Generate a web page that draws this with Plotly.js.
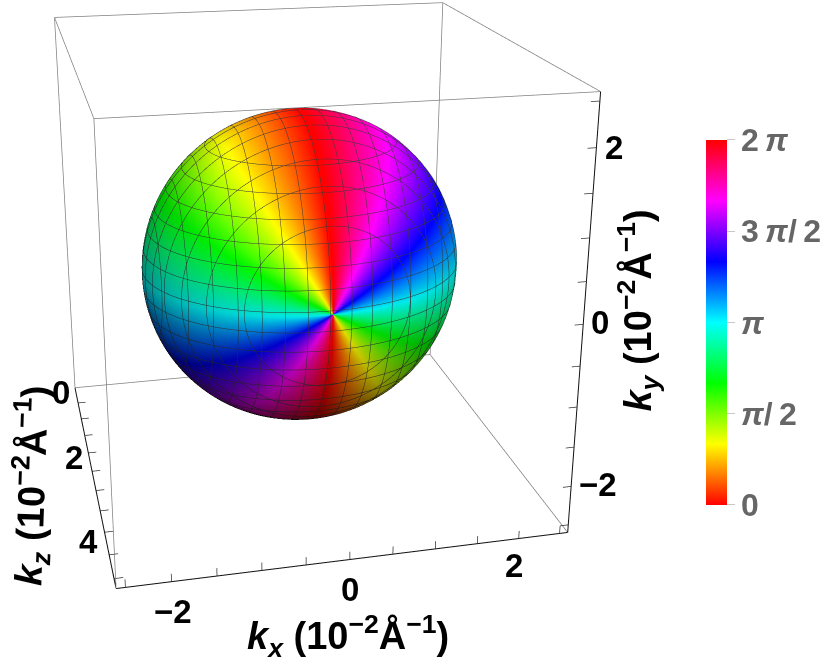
<!DOCTYPE html>
<html>
<head>
<meta charset="utf-8">
<script src="https://cdn.plot.ly/plotly-3.0.1.min.js"></script>
<style>
html, body { margin: 0; padding: 0; width: 830px; height: 659px; overflow: hidden; background: #fff; }
#wrap { position: absolute; left: 0; top: 0; width: 830px; height: 659px; overflow: hidden; }
/* plotly fixes the 3d fov at 45deg, so the scene has to be bigger than the window */
#plt { position: absolute; left: -294px; top: -348px; }
</style>
</head>
<body>
<div id="wrap"><div id="plt"></div></div>
<script>
var xRange = [-2.6, 2.6];
var yRange = [-2.6, 2.6];
var zRange = [0, 5.2];

var xTicks = [-2.5, -2, -1.5, -1, -0.5, 0, 0.5, 1, 1.5, 2, 2.5];
var yTicks = [-2.5, -2, -1.5, -1, -0.5, 0, 0.5, 1, 1.5, 2, 2.5];
var zTicks = [0.5, 1, 1.5, 2, 2.5, 3, 3.5, 4, 4.5, 5];

var xLabels = [-2, 0, 2];
var xLabelText = ['−2', '0', '2'];
var xLabelShift = [[1, -30], [0, -30], [-5, -27]];
var yLabels = [-2, 0, 2];
var yLabelText = ['−2', '0', '2'];
var yLabelShift = [[27, 2], [17, 2], [18, 0]];
var zLabels = [0, 2, 4];
var zLabelText = ['0', '2', '4'];
var zLabelShift = [[-14, -5], [-14, -5], [-16, -9]];

var sphereR = 1.92;
var sphereRz = 1.62;
var sphereX = 0.03;
var sphereY = -0.045;
var sphereZ = 2.6;
var meshStep = 0.25;

// brightness: base level and pull along kx, ky, kz
var shadeBase = 0.56;
var shadeDir = [0.053, 0.447, 0.366];
// the shade shell sits a little nearer the camera, same outline as the sphere
var shellShift = [-0.0576, 0.0897, 0.2371];
var shellGrow = 0.986;

var barVals = [0, Math.PI / 2, Math.PI, 3 * Math.PI / 2, 2 * Math.PI];
var barText = ['0', '<i>π</i>/\u20092', '<i>π</i>', '3\u2009<i>π</i>/\u20092', '2\u2009<i>π</i>'];
var hues = ['#ff0000', '#ffff00', '#00ff00', '#00ffff', '#0000ff', '#ff00ff', '#ff0000'];

var fontFam = '"Liberation Sans", Arial, sans-serif';
var tickLen = 0.1;
var edgeGray = '#808080';
var edgeDark = '#111111';

function deg(a) { return a * Math.PI / 180; }

// phase winds twice around the kz pole, red on the kx = 0 plane
function buildSphere(grow, off) {
    var thetas = [], phis = [];
    var i, j;
    for (i = 0; i <= 90; i++) thetas.push(deg(0.05 + i * 179.9 / 90));
    // doubled row at the colour wrap so the scale does not run back through the rainbow
    for (i = 0; i <= 90; i++) phis.push([deg(90 + i * 2), deg(i * 4)]);
    for (i = 0; i <= 90; i++) phis.push([deg(270 + i * 2), deg(i * 4)]);
    var X = [], Y = [], Z = [], C = [], B = [];
    for (i = 0; i < thetas.length; i++) {
        var rx = [], ry = [], rz = [], rc = [], rb = [];
        for (j = 0; j < phis.length; j++) {
            var nx = Math.sin(thetas[i]) * Math.cos(phis[j][0]);
            var ny = Math.sin(thetas[i]) * Math.sin(phis[j][0]);
            var nz = Math.cos(thetas[i]);
            rx.push(sphereX + off[0] + grow * sphereR * nx);
            ry.push(sphereY + off[1] + grow * sphereR * ny);
            rz.push(sphereZ + off[2] + grow * sphereRz * nz);
            rc.push(phis[j][1]);
            rb.push(Math.max(0, Math.min(1, shadeBase + shadeDir[0] * nx + shadeDir[1] * ny + shadeDir[2] * nz)));
        }
        X.push(rx); Y.push(ry); Z.push(rz); C.push(rc); B.push(rb);
    }
    return {x: X, y: Y, z: Z, c: C, b: B};
}

function edge(a, b, color, w) {
    return {
        type: 'scatter3d', mode: 'lines', hoverinfo: 'skip', showlegend: false,
        x: [a[0], b[0]], y: [a[1], b[1]], z: [a[2], b[2]],
        line: {color: color, width: w}
    };
}

function tickTrace(xs, ys, zs) {
    return {
        type: 'scatter3d', mode: 'lines', hoverinfo: 'skip', showlegend: false,
        x: xs, y: ys, z: zs, line: {color: '#333333', width: 1.5}
    };
}

function createPlot() {
    var s = buildSphere(1, [0, 0, 0]);
    var shell = buildSphere(shellGrow, shellShift);
    var scale = hues.map(function (c, i) { return [i / (hues.length - 1), c]; });
    var flat = {ambient: 1, diffuse: 0, specular: 0, roughness: 1, fresnel: 0};
    var contour = function (lo, hi) {
        return {show: true, start: lo, end: hi, size: meshStep, color: '#3a3a3a', width: 3, highlight: false};
    };
    var sphere = {
        type: 'surface', x: s.x, y: s.y, z: s.z, surfacecolor: s.c,
        cmin: 0, cmax: 2 * Math.PI, colorscale: scale, hoverinfo: 'skip',
        lighting: flat,
        contours: {x: contour(-1.75, 1.75), y: contour(-1.75, 1.75), z: contour(1, 4.25)},
        colorbar: {
            x: 0.8210, xanchor: 'left', xpad: 0, y: 0.2997, yanchor: 'bottom', ypad: 0,
            len: 0.2997, lenmode: 'fraction', thickness: 21, thicknessmode: 'pixels',
            outlinewidth: 0, tickmode: 'array', tickvals: barVals, ticktext: barText,
            ticks: 'outside', ticklen: 8, tickcolor: '#c8c8c8', tickwidth: 1,
            tickfont: {family: fontFam, size: 32, color: '#666666', weight: 'bold'}
        }
    };
    // lightposition does not steer the light in gl-surface, so a dark shell does the shading
    var shade = {
        type: 'surface', x: shell.x, y: shell.y, z: shell.z, surfacecolor: shell.b,
        cmin: 0, cmax: 1, colorscale: [[0, '#000000'], [1, '#000000']], showscale: false,
        opacityscale: [[0, 1], [1, 0]], hoverinfo: 'skip', lighting: flat
    };

    var x0 = xRange[0], x1 = xRange[1], y0 = yRange[0], y1 = yRange[1], z0 = zRange[0], z1 = zRange[1];
    var data = [sphere, shade,
        edge([x0, y1, z1], [x1, y1, z1], edgeGray, 1.5),
        edge([x0, y1, z0], [x1, y1, z0], edgeGray, 1.5),
        edge([x0, y0, z0], [x1, y0, z0], edgeGray, 1.5),
        edge([x0, y0, z0], [x0, y1, z0], edgeGray, 1.5),
        edge([x1, y0, z0], [x1, y1, z0], edgeGray, 1.5),
        edge([x0, y0, z1], [x0, y1, z1], edgeGray, 1.5),
        edge([x0, y1, z0], [x0, y1, z1], edgeGray, 1.5),
        edge([x1, y1, z0], [x1, y1, z1], edgeGray, 1.5),
        edge([x1, y0, z0], [x1, y0, z1], edgeGray, 1.5),
        edge([x0, y0, z1], [x1, y0, z1], edgeDark, 2),
        edge([x1, y0, z1], [x1, y1, z1], edgeDark, 2),
        edge([x0, y0, z0], [x0, y0, z1], edgeDark, 2)
    ];

    var tx = [], ty = [], tz = [];
    xTicks.forEach(function (v) {
        tx.push(v, v, null); ty.push(y0, y0 + tickLen, null); tz.push(z1, z1, null);
    });
    yTicks.forEach(function (v) {
        tx.push(x1, x1 - tickLen, null); ty.push(v, v, null); tz.push(z1, z1, null);
    });
    zTicks.forEach(function (v) {
        tx.push(x0, x0 + tickLen, null); ty.push(y0, y0, null); tz.push(v, v, null);
    });
    data.push(tickTrace(tx, ty, tz));

    var labelFont = {family: fontFam, size: 33, color: '#000000', weight: 'bold'};
    var titleFont = {family: fontFam, size: 38, color: '#000000', weight: 'bold'};
    var ann = [];
    function note(x, y, z, text, shift, font, angle) {
        ann.push({x: x, y: y, z: z, text: text, showarrow: false, xshift: shift[0], yshift: shift[1],
            font: font, textangle: angle || 0, xanchor: 'center', yanchor: 'middle'});
    }
    xLabels.forEach(function (v, i) { note(v, y0, z1, xLabelText[i], xLabelShift[i], labelFont); });
    yLabels.forEach(function (v, i) { note(x1, v, z1, yLabelText[i], yLabelShift[i], labelFont); });
    zLabels.forEach(function (v, i) { note(x0, y0, v, zLabelText[i], zLabelShift[i], labelFont); });
    var unit = ' (10<sup>−2</sup>Å<sup>−1</sup>)';
    note(0, y0, z1, '<b><i>k<sub>x</sub></i>' + unit + '</b>', [-2, -76], titleFont);
    note(x1, 0, z1, '<b><i>k<sub>y</sub></i>' + unit + '</b>', [55, 14], titleFont, -90);
    note(x0, y0, 2.6, '<b><i>k<sub>z</sub></i>' + unit + '</b>', [-61, -10], titleFont, -88);

    var noAxis = {
        showbackground: false, showgrid: false, zeroline: false, showline: false,
        showticklabels: false, ticks: '', showspikes: false, title: {text: ''}
    };
    var layout = {
        width: 1218, height: 1218,
        margin: {l: 0, r: 0, t: 0, b: 0, pad: 0},
        paper_bgcolor: '#ffffff',
        showlegend: false,
        scene: {
            domain: {x: [0, 1], y: [0, 1]},
            xaxis: Object.assign({range: xRange}, noAxis),
            yaxis: Object.assign({range: yRange}, noAxis),
            zaxis: Object.assign({range: zRange}, noAxis),
            aspectmode: 'manual',
            aspectratio: {x: 1, y: 1, z: 1},
            camera: {
                eye: {x: -0.7227, y: 1.1875, z: 3.142},
                center: {x: 0.0304, y: 0.0148, z: 0.0412},
                up: {x: 0.0752, y: 0.9386, z: -0.3369},
                projection: {type: 'perspective'}
            },
            annotations: ann
        }
    };
    Plotly.newPlot(document.getElementById('plt'), data, layout, {displayModeBar: false});
}

createPlot();
</script>
</body>
</html>
